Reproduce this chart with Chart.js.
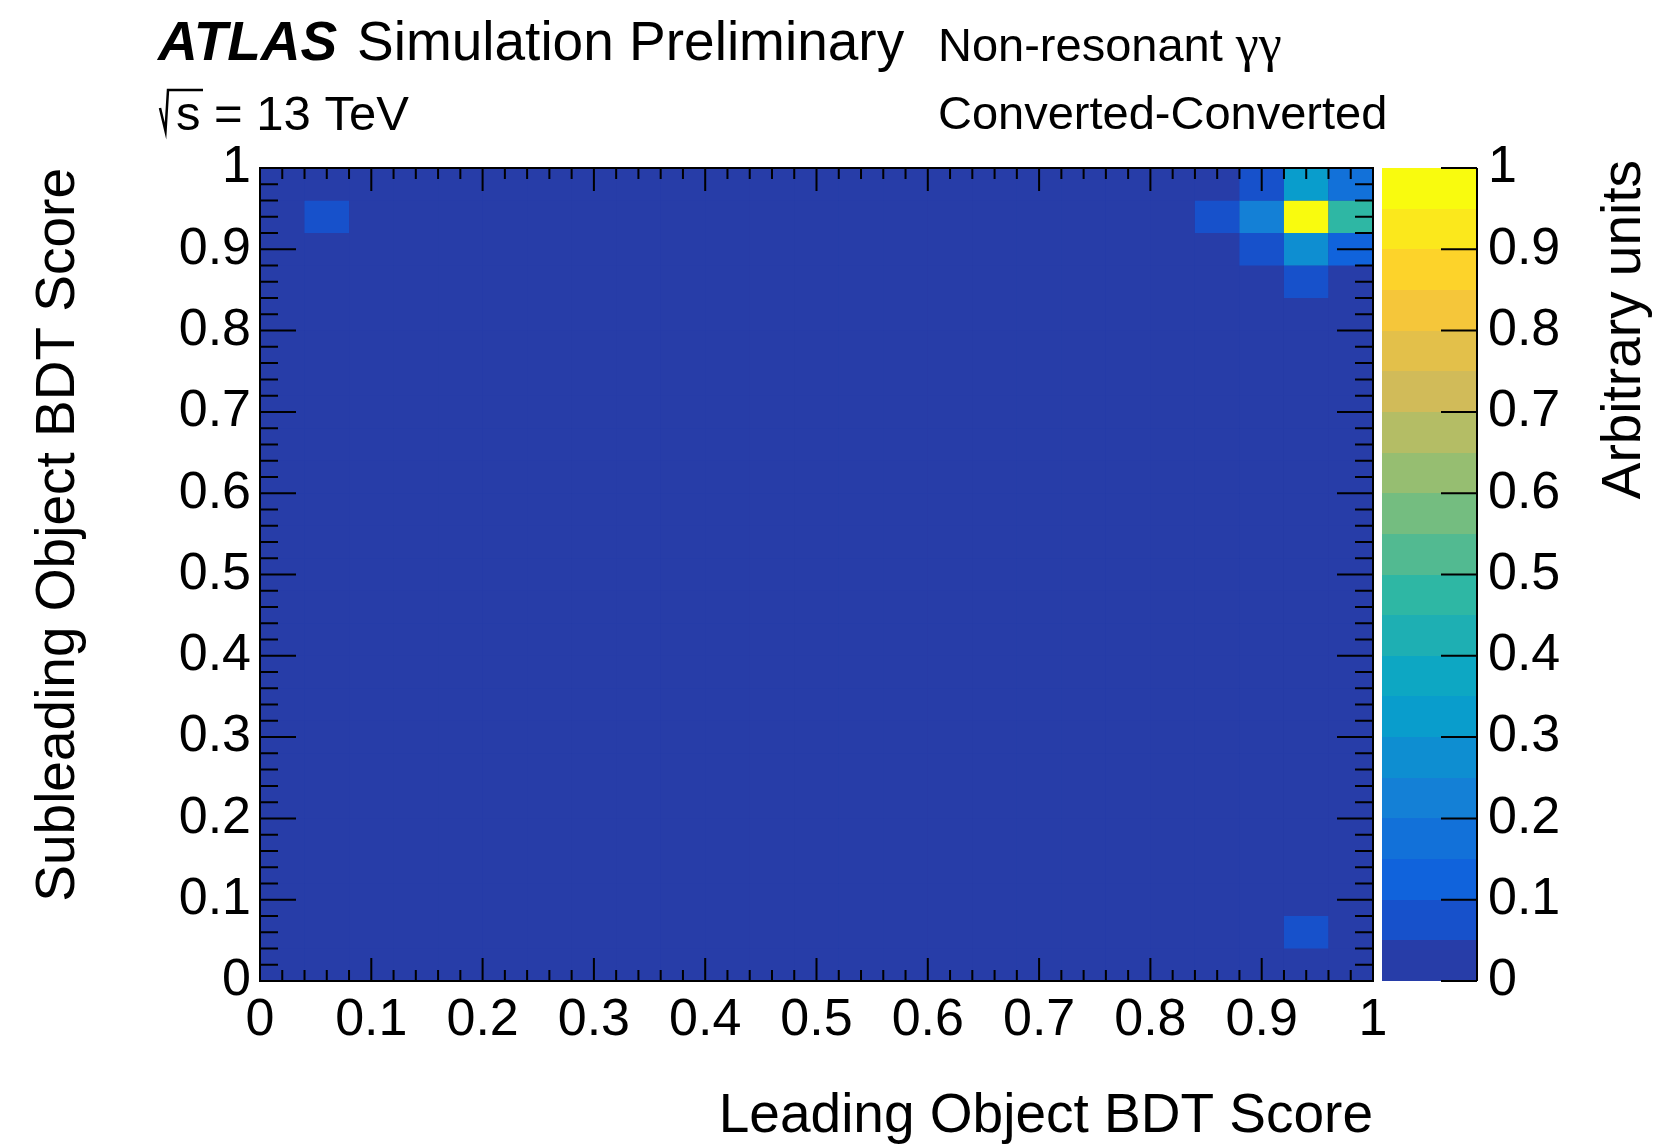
<!DOCTYPE html>
<html>
<head>
<meta charset="utf-8">
<title>BDT score correlation</title>
<script src="https://cdn.jsdelivr.net/npm/chart.js"></script>
<style>
  html, body { margin: 0; padding: 0; background: #ffffff; }
  #wrap { width: 1656px; height: 1144px; }
</style>
</head>
<body>
<div id="wrap"><canvas id="chart" width="1656" height="1144"></canvas></div>
<script>
// Histogram binning shared by both BDT score axes (25 bins of width 0.04)
const binEdges = [0, 0.04, 0.08, 0.12, 0.16, 0.2, 0.24, 0.28, 0.32, 0.36, 0.4, 0.44, 0.48,
                  0.52, 0.56, 0.6, 0.64, 0.68, 0.72, 0.76, 0.8, 0.84, 0.88, 0.92, 0.96, 1];

// Normalised yield per bin. One row per subleading-score bin, listed from the top
// (0.96-1.00) down to the bottom (0.00-0.04); columns run over the leading-score bins 0 -> 1.
const yieldRowsTopDown = [
  [0,0,0,0,0,0,0,0,0,0,0,0,0,0,0,0,0,0,0,0,0,0,0.08,0.33,0.17],   // 0.96-1.00
  [0,0.07,0,0,0,0,0,0,0,0,0,0,0,0,0,0,0,0,0,0,0,0.07,0.22,1,0.47], // 0.92-0.96
  [0,0,0,0,0,0,0,0,0,0,0,0,0,0,0,0,0,0,0,0,0,0,0.08,0.28,0.12],   // 0.88-0.92
  [0,0,0,0,0,0,0,0,0,0,0,0,0,0,0,0,0,0,0,0,0,0,0,0.07,0],         // 0.84-0.88
  [0,0,0,0,0,0,0,0,0,0,0,0,0,0,0,0,0,0,0,0,0,0,0,0,0],            // 0.80-0.84
  [0,0,0,0,0,0,0,0,0,0,0,0,0,0,0,0,0,0,0,0,0,0,0,0,0],            // 0.76-0.80
  [0,0,0,0,0,0,0,0,0,0,0,0,0,0,0,0,0,0,0,0,0,0,0,0,0],            // 0.72-0.76
  [0,0,0,0,0,0,0,0,0,0,0,0,0,0,0,0,0,0,0,0,0,0,0,0,0],            // 0.68-0.72
  [0,0,0,0,0,0,0,0,0,0,0,0,0,0,0,0,0,0,0,0,0,0,0,0,0],            // 0.64-0.68
  [0,0,0,0,0,0,0,0,0,0,0,0,0,0,0,0,0,0,0,0,0,0,0,0,0],            // 0.60-0.64
  [0,0,0,0,0,0,0,0,0,0,0,0,0,0,0,0,0,0,0,0,0,0,0,0,0],            // 0.56-0.60
  [0,0,0,0,0,0,0,0,0,0,0,0,0,0,0,0,0,0,0,0,0,0,0,0,0],            // 0.52-0.56
  [0,0,0,0,0,0,0,0,0,0,0,0,0,0,0,0,0,0,0,0,0,0,0,0,0],            // 0.48-0.52
  [0,0,0,0,0,0,0,0,0,0,0,0,0,0,0,0,0,0,0,0,0,0,0,0,0],            // 0.44-0.48
  [0,0,0,0,0,0,0,0,0,0,0,0,0,0,0,0,0,0,0,0,0,0,0,0,0],            // 0.40-0.44
  [0,0,0,0,0,0,0,0,0,0,0,0,0,0,0,0,0,0,0,0,0,0,0,0,0],            // 0.36-0.40
  [0,0,0,0,0,0,0,0,0,0,0,0,0,0,0,0,0,0,0,0,0,0,0,0,0],            // 0.32-0.36
  [0,0,0,0,0,0,0,0,0,0,0,0,0,0,0,0,0,0,0,0,0,0,0,0,0],            // 0.28-0.32
  [0,0,0,0,0,0,0,0,0,0,0,0,0,0,0,0,0,0,0,0,0,0,0,0,0],            // 0.24-0.28
  [0,0,0,0,0,0,0,0,0,0,0,0,0,0,0,0,0,0,0,0,0,0,0,0,0],            // 0.20-0.24
  [0,0,0,0,0,0,0,0,0,0,0,0,0,0,0,0,0,0,0,0,0,0,0,0,0],            // 0.16-0.20
  [0,0,0,0,0,0,0,0,0,0,0,0,0,0,0,0,0,0,0,0,0,0,0,0,0],            // 0.12-0.16
  [0,0,0,0,0,0,0,0,0,0,0,0,0,0,0,0,0,0,0,0,0,0,0,0,0],            // 0.08-0.12
  [0,0,0,0,0,0,0,0,0,0,0,0,0,0,0,0,0,0,0,0,0,0,0,0.07,0],         // 0.04-0.08
  [0,0,0,0,0,0,0,0,0,0,0,0,0,0,0,0,0,0,0,0,0,0,0,0,0]             // 0.00-0.04
];

// Axis tick values and their labels (same for both BDT axes and the colour scale)
const tickValues = [0, 0.1, 0.2, 0.3, 0.4, 0.5, 0.6, 0.7, 0.8, 0.9, 1];
const tickLabels = ['0', '0.1', '0.2', '0.3', '0.4', '0.5', '0.6', '0.7', '0.8', '0.9', '1'];

// Number of colour contours on the z scale
const contourCount = 20;

// "Bird" palette stops
const birdStops = [0, 0.125, 0.25, 0.375, 0.5, 0.625, 0.75, 0.875, 1];
const birdRed   = [0.2082, 0.0592, 0.0780, 0.0232, 0.1802, 0.5301, 0.8186, 0.9956, 0.9764];
const birdGreen = [0.1664, 0.3599, 0.5041, 0.6419, 0.7178, 0.7492, 0.7328, 0.7862, 0.9832];
const birdBlue  = [0.5293, 0.8684, 0.8385, 0.7914, 0.6425, 0.4662, 0.3499, 0.1968, 0.0539];

function birdColour(p) {
  let k = 0;
  while (k < birdStops.length - 2 && p > birdStops[k + 1]) k++;
  const f = (p - birdStops[k]) / (birdStops[k + 1] - birdStops[k]);
  const mix = (arr) => Math.round(255 * (arr[k] + f * (arr[k + 1] - arr[k])));
  return `rgb(${mix(birdRed)},${mix(birdGreen)},${mix(birdBlue)})`;
}

// One colour per contour, picked from a 255-step palette
const contourColours = [];
for (let i = 0; i < contourCount; i++) {
  const idx = Math.floor((i + 0.99) * 255 / contourCount);
  contourColours.push(birdColour(idx / 254));
}

function colourForValue(v) {
  let i = Math.floor(0.01 + v * contourCount);
  if (i < 0) i = 0;
  if (i > contourCount - 1) i = contourCount - 1;
  return contourColours[i];
}

// One floating-bar dataset per subleading row
const nBins = binEdges.length - 1;
const datasets = yieldRowsTopDown.map((row, r) => {
  const yb = nBins - 1 - r;
  return {
    label: `subleading ${binEdges[yb]}-${binEdges[yb + 1]}`,
    data: row.map((v, c) => ({
      x: (binEdges[c] + binEdges[c + 1]) / 2,
      y: [binEdges[yb], binEdges[yb + 1]],
      v: v
    })),
    backgroundColor: row.map(colourForValue),
    borderWidth: 0,
    inflateAmount: 0,
    grouped: false,
    categoryPercentage: 1,
    barPercentage: 1
  };
});

const FONT = '"Liberation Sans", Arial, Helvetica, sans-serif';
const tickFont = { family: FONT, size: 52, lineHeight: 1.2 };
const titleFont = { family: FONT, size: 55, lineHeight: 1.0 };
const tickCallback = (v) => {
  const i = tickValues.findIndex(t => Math.abs(t - v) < 1e-6);
  return i >= 0 ? tickLabels[i] : '';
};

// Plot frame: lowest-contour fill under the cells, then the border with inward ticks on all sides
const frameTicks = {
  id: 'frameTicks',
  beforeDatasetsDraw(chart) {
    const { ctx, chartArea: a } = chart;
    ctx.save();
    ctx.fillStyle = contourColours[0];
    ctx.fillRect(a.left, a.top, a.right - a.left, a.bottom - a.top);
    ctx.restore();
  },
  afterDatasetsDraw(chart) {
    const { ctx, chartArea: a, scales: { x, y } } = chart;
    ctx.save();
    ctx.strokeStyle = '#000';
    ctx.lineWidth = 2;
    ctx.beginPath();
    for (let k = 0; k <= 50; k++) {
      const v = k / 50;
      const major = k % 5 === 0;
      const px = x.getPixelForValue(v);
      const py = y.getPixelForValue(v);
      const lx = major ? 23 : 11;
      const ly = major ? 36 : 18;
      ctx.moveTo(px, a.bottom); ctx.lineTo(px, a.bottom - lx);
      ctx.moveTo(px, a.top);    ctx.lineTo(px, a.top + lx);
      ctx.moveTo(a.left, py);   ctx.lineTo(a.left + ly, py);
      ctx.moveTo(a.right, py);  ctx.lineTo(a.right - ly, py);
    }
    ctx.stroke();
    ctx.strokeRect(a.left, a.top, a.right - a.left, a.bottom - a.top);
    ctx.restore();
  }
};

// Colour scale bar and the text labels around the plot
const colourBarAndLabels = {
  id: 'colourBarAndLabels',
  afterDraw(chart) {
    const { ctx, chartArea: a, scales: { z } } = chart;
    const left = a.right + 9;
    const right = a.right + 104;
    ctx.save();
    for (let i = 0; i < contourCount; i++) {
      const lo = Math.round(z.getPixelForValue(i / contourCount));
      const hi = Math.round(z.getPixelForValue((i + 1) / contourCount));
      ctx.fillStyle = contourColours[i];
      ctx.fillRect(left, hi, right - left, lo - hi);
    }
    ctx.strokeStyle = '#000';
    ctx.lineWidth = 2;
    ctx.beginPath();
    ctx.moveTo(right, z.top);
    ctx.lineTo(right, z.bottom);
    tickValues.forEach(v => {
      const py = z.getPixelForValue(v);
      ctx.moveTo(right, py);
      ctx.lineTo(right - 36, py);
    });
    ctx.stroke();

    // colour scale title, reading upwards
    ctx.fillStyle = '#000';
    ctx.save();
    ctx.translate(1640, 160);
    ctx.rotate(-Math.PI / 2);
    ctx.font = `55px ${FONT}`;
    ctx.textAlign = 'right';
    ctx.textBaseline = 'alphabetic';
    ctx.fillText('Arbitrary units', 0, 0);
    ctx.restore();

    // header
    ctx.textAlign = 'left';
    ctx.textBaseline = 'alphabetic';
    ctx.font = `italic bold 55px ${FONT}`;
    ctx.fillText('ATLAS', 158, 60);
    ctx.font = `55px ${FONT}`;
    ctx.fillText('Simulation Preliminary', 357, 60);

    // sqrt(s) = 13 TeV
    ctx.lineWidth = 2.5;
    ctx.lineJoin = 'miter';
    ctx.beginPath();
    ctx.moveTo(160, 108);
    ctx.lineTo(165.5, 131);
    ctx.lineTo(168, 90);
    ctx.lineTo(203, 90);
    ctx.stroke();
    ctx.font = `49px ${FONT}`;
    ctx.fillText('s = 13 TeV', 176, 130);

    ctx.font = `47px ${FONT}`;
    ctx.fillText('Non-resonant ', 938, 61);
    const w = ctx.measureText('Non-resonant ').width;
    ctx.font = `52px "Liberation Serif", "DejaVu Serif", serif`;
    ctx.fillText('\u03b3\u03b3', 938 + w, 61);
    ctx.font = `47px ${FONT}`;
    ctx.fillText('Converted-Converted', 938, 129);
    ctx.restore();
  }
};

new Chart(document.getElementById('chart').getContext('2d'), {
  type: 'bar',
  data: { datasets },
  options: {
    responsive: false,
    animation: false,
    events: [],
    layout: { padding: { top: 168, left: 0, right: 0, bottom: 0 } },
    plugins: { legend: { display: false }, tooltip: { enabled: false } },
    scales: {
      x: {
        type: 'linear', min: 0, max: 1, offset: false,
        grid: { display: false, drawTicks: false }, border: { display: false },
        ticks: { stepSize: 0.1, padding: 8, font: tickFont, color: '#000',
                 maxRotation: 0, autoSkip: false, callback: tickCallback },
        title: { display: true, text: 'Leading Object BDT Score', align: 'end', color: '#000',
                 font: titleFont, padding: { top: 0, bottom: 0 } },
        afterFit(s) { s.height = 163; }
      },
      y: {
        type: 'linear', position: 'left', min: 0, max: 1,
        grid: { display: false, drawTicks: false }, border: { display: false },
        ticks: { stepSize: 0.1, padding: 9, font: tickFont, color: '#000', autoSkip: false,
                 callback: tickCallback },
        title: { display: true, text: 'Subleading Object BDT Score', align: 'end', color: '#000',
                 font: titleFont, padding: { top: 31, bottom: 0 } },
        afterFit(s) { s.width = 260; }
      },
      z: {
        type: 'linear', position: 'right', min: 0, max: 1,
        grid: { display: false, drawTicks: false }, border: { display: false },
        ticks: { stepSize: 0.1, padding: 115, font: tickFont, color: '#000', autoSkip: false,
                 callback: tickCallback },
        afterFit(s) { s.width = 283; }
      }
    }
  },
  plugins: [frameTicks, colourBarAndLabels]
});
</script>
</body>
</html>
